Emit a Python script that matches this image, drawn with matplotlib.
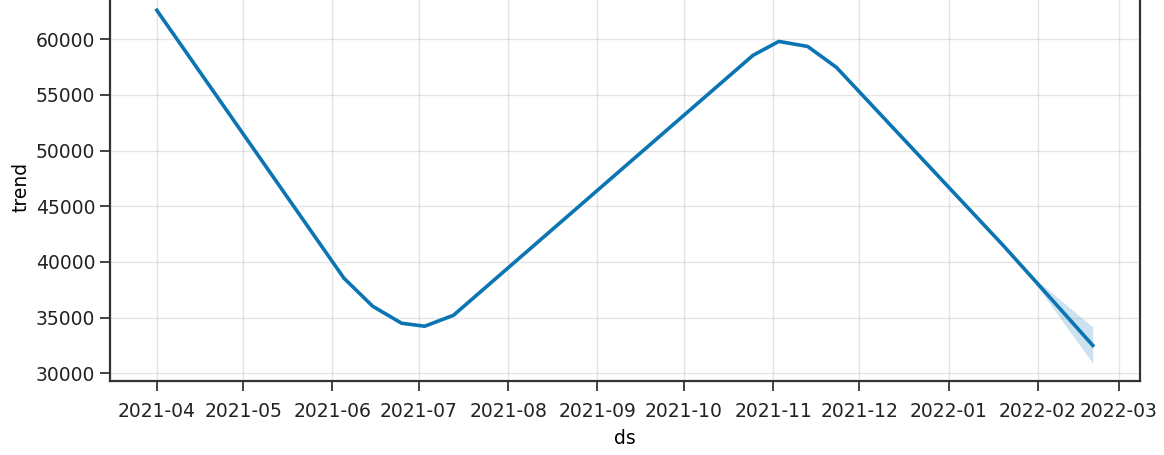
import pandas as pd
import matplotlib.pyplot as plt
import matplotlib.dates as mdates

# trend component vertices (changepoints) and uncertainty bounds
dates = ["2021-04-01", "2021-06-05", "2021-06-15", "2021-06-25", "2021-07-03",
         "2021-07-13", "2021-10-25", "2021-11-03", "2021-11-13", "2021-11-23",
         "2022-01-20", "2022-02-01", "2022-02-20"]
trend = [62600, 38530, 36010, 34490, 34220,
         35200, 58550, 59800, 59350, 57470,
         41450, 38000, 32500]
trend_lower = [62600, 38530, 36010, 34490, 34220,
               35200, 58550, 59800, 59350, 57470,
               41350, 37700, 30900]
trend_upper = [62600, 38530, 36010, 34490, 34220,
               35200, 58550, 59800, 59350, 57470,
               41550, 38250, 34150]

plt.rcParams["font.family"] = ["DejaVu Sans"]
plt.rcParams["font.size"] = 13.5

ds = pd.to_datetime(dates)

fig = plt.figure(figsize=(11.64, 4.55), dpi=100)
ax = fig.add_axes([0.0945, 0.1626, 0.8845, 0.854])

ax.plot(ds, trend, ls="-", c="#0b74b2", lw=2.6)
ax.fill_between(ds, trend_lower, trend_upper, color="#0072B2", alpha=0.2, lw=0)
ax.grid(True, which="major", c="gray", ls="-", lw=1, alpha=0.2)

ax.xaxis.set_major_locator(mdates.MonthLocator())
ax.xaxis.set_major_formatter(mdates.DateFormatter("%Y-%m"))
ax.set_ylim(29300, 64200)
ax.set_yticks(range(30000, 60001, 5000))

ax.tick_params(length=7, width=1.2, colors="#222222", labelcolor="#222222")
ax.tick_params(axis="x", pad=8)
for s in ax.spines.values():
    s.set_linewidth(1.6)
    s.set_color("#333333")

ax.set_xlabel("ds", labelpad=6)
ax.set_ylabel("trend", labelpad=4)

fig.savefig("out.png", dpi=100)
